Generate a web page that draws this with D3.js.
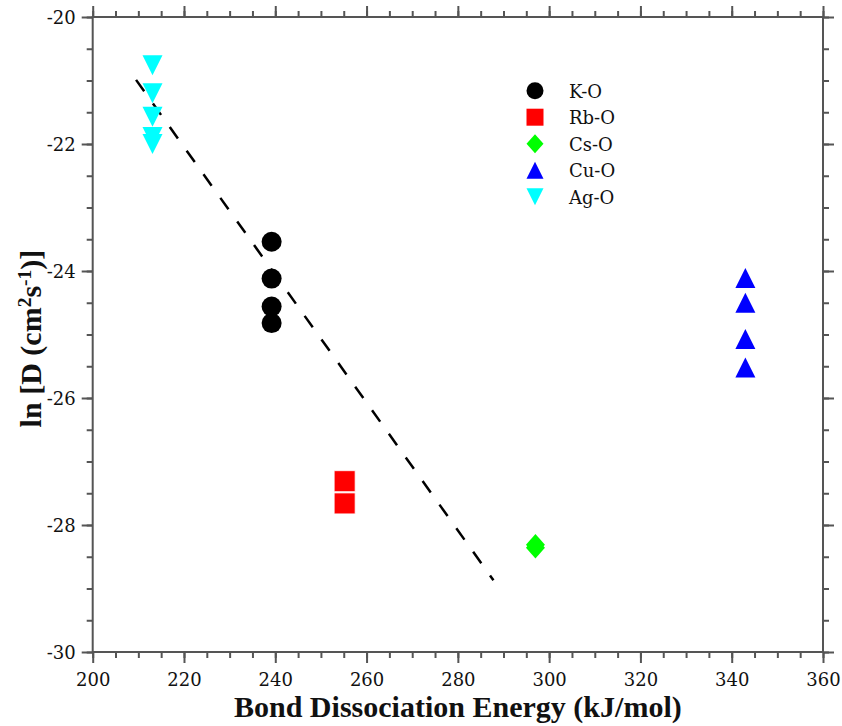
<!DOCTYPE html>
<html>
<head>
<meta charset="utf-8">
<script src="https://cdn.jsdelivr.net/npm/d3@7"></script>
<style>
  body { margin: 0; background: #fff; }
  svg { display: block; font-family: "DejaVu Serif", "Liberation Serif", serif; }
  .axis path, .axis line { stroke: #555; stroke-width: 2; }
  .axis text { fill: #111; font-size: 18px; font-family: "DejaVu Serif", serif; }
</style>
</head>
<body>
<svg id="chart" width="842" height="726"></svg>
<script>
// Data
const koX = [239.2, 239.2, 239.2, 239.2];
const koY = [-23.54, -24.12, -24.56, -24.82];
const rboX = [255.2, 255.2];
const rboY = [-27.31, -27.66];
const csoX = [297.0, 297.0];
const csoY = [-28.31, -28.36];
const cuoX = [343.0, 343.0, 343.0, 343.0];
const cuoY = [-24.11, -24.50, -25.07, -25.52];
const agoX = [213.1, 213.1, 213.1, 213.1, 213.1];
const agoY = [-20.76, -21.20, -21.57, -21.89, -22.00];
const fitX = [209.5, 287.8];
const fitY = [-20.99, -28.87];

const seriesNames = ['K-O', 'Rb-O', 'Cs-O', 'Cu-O', 'Ag-O'];
const seriesColors = ['#000000', '#ff0000', '#00ff00', '#0000ff', '#00ffff'];
const seriesShapes = ['circle', 'square', 'diamond', 'up', 'down'];

const xTicks = [200, 220, 240, 260, 280, 300, 320, 340, 360];
const yTicks = [-20, -22, -24, -26, -28, -30];

(function() {
    const svg = d3.select('#chart');
    const left = 92.7, right = 823, top = 17, bottom = 652;

    const x = d3.scaleLinear().domain([200, 360]).range([left, right]);
    const y = d3.scaleLinear().domain([-30, -20]).range([bottom, top]);

    const minorX = d3.range(200, 360.1, 5);
    const minorY = d3.range(-30, -19.9, 0.5);

    // plain hyphen labels, like the reference
    const fmt = d => String(d);

    function addAxis(axisFn, scale, transform, values, size, labels) {
        const a = axisFn(scale).tickValues(values).tickSizeInner(size).tickSizeOuter(0).tickPadding(5);
        a.tickFormat(labels ? fmt : '');
        const g = svg.append('g').attr('class', 'axis').attr('transform', transform).call(a);
        g.select('.domain').remove();
        return g;
    }

    // Minor ticks
    addAxis(d3.axisBottom, x, `translate(0,${bottom})`, minorX, 6, false);
    addAxis(d3.axisTop, x, `translate(0,${top})`, minorX, 6, false);
    addAxis(d3.axisLeft, y, `translate(${left},0)`, minorY, 6, false);
    addAxis(d3.axisRight, y, `translate(${right},0)`, minorY, 6, false);

    // Major ticks
    addAxis(d3.axisBottom, x, `translate(0,${bottom})`, xTicks, 11, true)
        .selectAll('text').attr('y', 34).attr('dy', 0);
    addAxis(d3.axisTop, x, `translate(0,${top})`, xTicks, 11, false);
    addAxis(d3.axisLeft, y, `translate(${left},0)`, yTicks, 11, true)
        .selectAll('text').attr('x', -17).attr('dy', '0.36em');
    addAxis(d3.axisRight, y, `translate(${right},0)`, yTicks, 11, false);

    // Frame
    svg.append('rect')
        .attr('x', left).attr('y', top)
        .attr('width', right - left).attr('height', bottom - top)
        .attr('fill', 'none').attr('stroke', '#555').attr('stroke-width', 2);

    // Marker path builder
    function markerPath(shape, s) {
        const h = s / 2;
        switch (shape) {
            case 'circle':
                return `M${h},0A${h},${h} 0 1,1 ${-h},0A${h},${h} 0 1,1 ${h},0Z`;
            case 'square':
                return `M${-h},${-h}H${h}V${h}H${-h}Z`;
            case 'diamond':
                return `M0,${-h * 1.12}L${h},0L0,${h * 1.12}L${-h},0Z`;
            case 'up':
                return `M0,${-h}L${h},${h}L${-h},${h}Z`;
            case 'down':
                return `M0,${h}L${h},${-h}L${-h},${-h}Z`;
        }
    }

    // Fit line
    const fitLine = d3.line().x(d => x(d[0])).y(d => y(d[1]));
    svg.append('path')
        .attr('d', fitLine(d3.zip(fitX, fitY)))
        .attr('fill', 'none')
        .attr('stroke', '#000')
        .attr('stroke-width', 2.5)
        .attr('stroke-dasharray', '14,15');

    const series = [
        [koX, koY, 20],
        [rboX, rboY, 21],
        [csoX, csoY, 19],
        [cuoX, cuoY, 20],
        [agoX, agoY, 20]
    ];

    series.forEach((s, i) => {
        svg.append('g').selectAll('path')
            .data(d3.zip(s[0], s[1]))
            .join('path')
            .attr('transform', d => `translate(${x(d[0])},${y(d[1])})`)
            .attr('d', markerPath(seriesShapes[i], s[2]))
            .attr('fill', seriesColors[i])
            .attr('stroke', i === 1 ? '#fff' : 'none')
            .attr('stroke-width', i === 1 ? 0.8 : 0);
    });

    // Legend
    const legend = svg.append('g').attr('transform', 'translate(535,90.7)');
    seriesNames.forEach((name, i) => {
        const row = legend.append('g').attr('transform', `translate(0,${i * 26.5})`);
        row.append('path')
            .attr('d', markerPath(seriesShapes[i], 17))
            .attr('fill', seriesColors[i]);
        row.append('text')
            .attr('x', 34).attr('y', 7)
            .attr('font-size', 18)
            .attr('fill', '#111')
            .text(name);
    });

    // Axis titles
    const titleFont = '"Liberation Serif", serif';
    const xTitle = svg.append('text')
        .attr('x', (left + right) / 2).attr('y', 717)
        .attr('text-anchor', 'middle')
        .attr('font-family', titleFont)
        .attr('font-weight', 'bold')
        .attr('font-size', 28)
        .attr('fill', '#111')
        .text('Bond Dissociation Energy (kJ/mol)');
    const w = xTitle.node().getComputedTextLength();
    const titleSize = 28 * 448 / w;
    xTitle.attr('font-size', titleSize);

    const yTitle = svg.append('text')
        .attr('transform', `translate(41,${(top + bottom) / 2 + 4}) rotate(-90)`)
        .attr('text-anchor', 'middle')
        .attr('font-family', titleFont)
        .attr('font-weight', 'bold')
        .attr('font-size', titleSize)
        .attr('fill', '#111');
    yTitle.append('tspan').text('ln [D (cm');
    yTitle.append('tspan').attr('dy', -10).attr('font-size', titleSize * 0.65).text('2');
    yTitle.append('tspan').attr('dy', 10).text('s');
    yTitle.append('tspan').attr('dy', -10).attr('font-size', titleSize * 0.65).text('-1');
    yTitle.append('tspan').attr('dy', 10).text(')]');
})();
</script>
</body>
</html>
